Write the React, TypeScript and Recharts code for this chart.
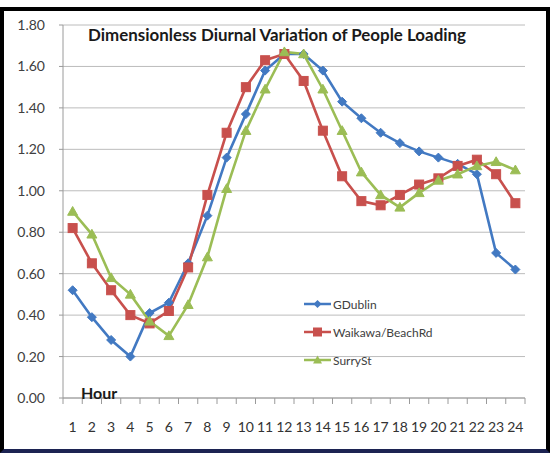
import React from 'react';
import { LineChart, Line, XAxis, YAxis, CartesianGrid, Legend } from 'recharts';

// Hour of day, 1..24
const hours = [1, 2, 3, 4, 5, 6, 7, 8, 9, 10, 11, 12, 13, 14, 15, 16, 17, 18, 19, 20, 21, 22, 23, 24];

// Dimensionless loading factors
const gDublin = [0.52, 0.39, 0.28, 0.2, 0.41, 0.46, 0.65, 0.88, 1.16, 1.37, 1.58, 1.66, 1.66, 1.58, 1.43, 1.35, 1.28, 1.23, 1.19, 1.16, 1.13, 1.08, 0.7, 0.62];
const waikawa = [0.82, 0.65, 0.52, 0.4, 0.36, 0.42, 0.63, 0.98, 1.28, 1.5, 1.63, 1.66, 1.53, 1.29, 1.07, 0.95, 0.93, 0.98, 1.03, 1.06, 1.12, 1.15, 1.08, 0.94];
const surry = [0.9, 0.79, 0.58, 0.5, 0.37, 0.3, 0.45, 0.68, 1.01, 1.29, 1.49, 1.67, 1.66, 1.49, 1.29, 1.09, 0.98, 0.92, 0.99, 1.05, 1.08, 1.12, 1.14, 1.1];

const yTicks = [0, 0.2, 0.4, 0.6, 0.8, 1.0, 1.2, 1.4, 1.6, 1.8];

const seriesNames = ['GDublin', 'Waikawa/BeachRd', 'SurrySt'];

const BLUE = '#4279c2';
const RED = '#c8504d';
const GREEN = '#9bbd55';
const FONT = 'Lato, "Open Sans", sans-serif';

const data = hours.map((h, i) => ({
  hour: h,
  gDublin: gDublin[i],
  waikawa: waikawa[i],
  surry: surry[i],
}));

// plot area geometry
const PLOT_LEFT = 63;
const PLOT_RIGHT = 525;
const BAND = (PLOT_RIGHT - PLOT_LEFT) / hours.length;

const diamond = (cx: number, cy: number, r: number) =>
  `M${cx},${cy - r}L${cx + r},${cy}L${cx},${cy + r}L${cx - r},${cy}Z`;
const triangle = (cx: number, cy: number, r: number) =>
  `M${cx},${cy - r}L${cx + r},${cy + r * 0.75}L${cx - r},${cy + r * 0.75}Z`;

const DiamondDot = (props: any) => {
  const { cx, cy, index } = props;
  if (cx == null || cy == null) return <g key={`d-${index}`} />;
  return <path key={`d-${index}`} d={diamond(cx, cy, 4.5)} fill={BLUE} stroke={BLUE} />;
};

const SquareDot = (props: any) => {
  const { cx, cy, index } = props;
  if (cx == null || cy == null) return <g key={`s-${index}`} />;
  return <rect key={`s-${index}`} x={cx - 4.5} y={cy - 4.5} width={9} height={9} fill={RED} stroke={RED} />;
};

const TriangleDot = (props: any) => {
  const { cx, cy, index } = props;
  if (cx == null || cy == null) return <g key={`t-${index}`} />;
  return <path key={`t-${index}`} d={triangle(cx, cy, 5)} fill={GREEN} stroke={GREEN} />;
};

// Excel style: tick marks between categories, label under the middle
const HourTick = (props: any) => {
  const { x, y, payload, index } = props;
  const axisY = 398;
  return (
    <g>
      <line x1={x - BAND / 2} x2={x - BAND / 2} y1={axisY} y2={axisY + 6} stroke="#9a9a9a" />
      {index === hours.length - 1 && (
        <line x1={x + BAND / 2} x2={x + BAND / 2} y1={axisY} y2={axisY + 6} stroke="#9a9a9a" />
      )}
      <text x={x} y={y} dy="0.71em" textAnchor="middle" fill="#333" fontSize={14} fontFamily={FONT}>
        {payload.value}
      </text>
    </g>
  );
};

const legendIcons = [
  (cx: number, cy: number) => <path d={diamond(cx, cy, 4)} fill={BLUE} />,
  (cx: number, cy: number) => <rect x={cx - 4.5} y={cy - 4.5} width={9} height={9} fill={RED} />,
  (cx: number, cy: number) => <path d={triangle(cx, cy, 4.5)} fill={GREEN} />,
];
const legendColors = [BLUE, RED, GREEN];

const renderLegend = () => (
  <div style={{ fontFamily: FONT, fontSize: 12, color: '#404040' }}>
    {seriesNames.map((name, i) => (
      <div key={name} style={{ display: 'flex', alignItems: 'center', height: 28 }}>
        <svg width={27} height={12} style={{ marginRight: 2 }}>
          <line x1={0} x2={27} y1={6} y2={6} stroke={legendColors[i]} strokeWidth={2.5} />
          {legendIcons[i](13.5, 6)}
        </svg>
        <span>{name}</span>
      </div>
    ))}
  </div>
);

const App: React.FC = () => {
  return (
    <div style={{ position: 'absolute', left: 0, top: 0, width: 550, height: 454, background: '#fff' }}>
      <LineChart
        width={550}
        height={454}
        data={data}
        margin={{ top: 25, right: 25, left: 0, bottom: 26 }}
      >
        <CartesianGrid vertical={false} stroke="#bcbcbc" />
        <XAxis
          dataKey="hour"
          type="number"
          domain={[0.5, 24.5]}
          ticks={hours}
          interval={0}
          tick={<HourTick />}
          tickLine={false}
          tickSize={6}
          tickMargin={18}
          axisLine={{ stroke: '#9a9a9a' }}
          height={30}
        />
        <YAxis
          domain={[0, 1.8]}
          ticks={yTicks}
          interval={0}
          width={63}
          tickSize={4}
          tickMargin={14}
          tickLine={{ stroke: '#9a9a9a' }}
          axisLine={{ stroke: '#9a9a9a' }}
          tickFormatter={(v: number) => v.toFixed(2)}
          tick={{ fill: '#404040', fontSize: 14, fontFamily: FONT }}
        />
        <Legend
          layout="vertical"
          align="center"
          verticalAlign="middle"
          content={renderLegend}
          wrapperStyle={{ left: 304, top: 290, width: 180 }}
        />
        <Line
          dataKey="gDublin"
          name={seriesNames[0]}
          stroke={BLUE}
          strokeWidth={2.6}
          dot={DiamondDot}
          isAnimationActive={false}
        />
        <Line
          dataKey="waikawa"
          name={seriesNames[1]}
          stroke={RED}
          strokeWidth={2.6}
          dot={SquareDot}
          isAnimationActive={false}
        />
        <Line
          dataKey="surry"
          name={seriesNames[2]}
          stroke={GREEN}
          strokeWidth={2.6}
          dot={TriangleDot}
          isAnimationActive={false}
        />
      </LineChart>
      <svg
        width={550}
        height={454}
        style={{ position: 'absolute', left: 0, top: 0, pointerEvents: 'none' }}
      >
        <text x={88} y={41} fontFamily={FONT} fontWeight="bold" fontSize={17} fill="#1a1a1a" textLength={378} lengthAdjust="spacingAndGlyphs">
          Dimensionless Diurnal Variation of People Loading
        </text>
        <text x={81} y={399} fontFamily={FONT} fontWeight="bold" fontSize={16} fill="#1a1a1a">
          Hour
        </text>
      </svg>
      <div
        style={{
          position: 'absolute',
          left: 0,
          top: 7,
          width: 550,
          height: 446,
          boxSizing: 'border-box',
          border: '4px solid #000',
          borderBottom: '4px solid #1c2352',
          pointerEvents: 'none',
        }}
      />
    </div>
  );
};

export default App;
